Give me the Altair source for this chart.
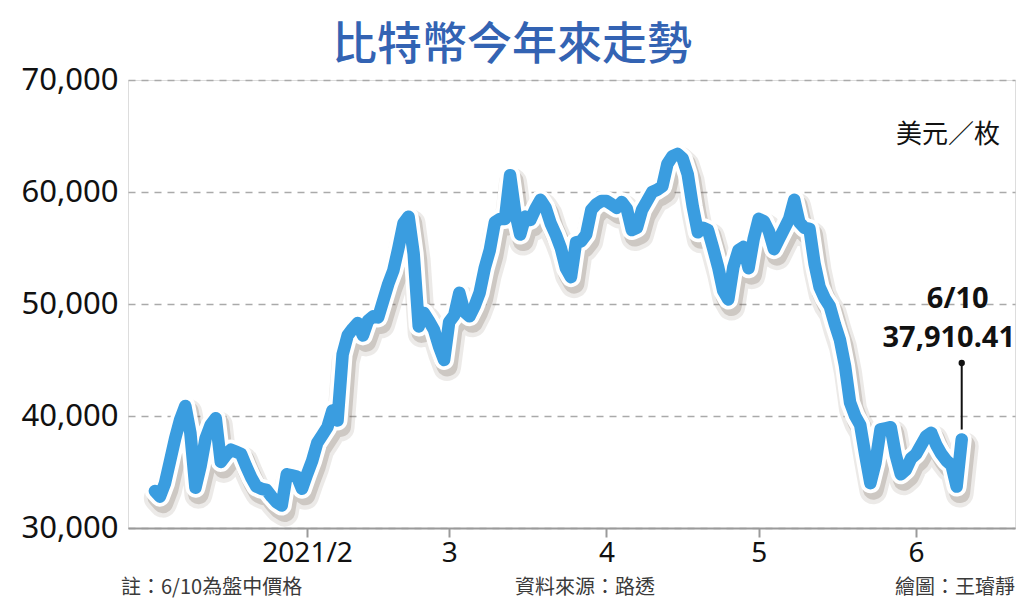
import altair as alt
import pandas as pd

# ---- data (daily, 2021/1/2 - 2021/6/10) ----
jan = [33300, 32800, 34000, 36000, 38000, 39700, 40900, 38500, 33600, 35500,
       38000, 39200, 39800, 35900, 36500, 37000, 36800, 36600, 35500, 34500,
       33700, 33500, 33400, 32800, 32300, 32000, 34800, 34700, 34600, 33500]
feb = [34800, 36000, 37600, 38300, 39000, 40500, 39600, 45500, 47200, 47800,
       48300, 47200, 48500, 48900, 48800, 50300, 51800, 53000, 55000, 57200,
       57800, 54500, 48000, 49200, 48500, 47700, 46200, 45000]
mar = [48400, 49000, 51000, 49300, 48900, 49800, 51000, 53200, 54800, 57300,
       57600, 57600, 61500, 58200, 56200, 57800, 57500, 58500, 59300, 58600,
       57200, 56200, 55000, 53200, 52400, 55500, 55600, 56200, 58400, 58900,
       59200]
apr = [59200, 58900, 58600, 59100, 58500, 56600, 56800, 58400, 59200, 60000,
       60200, 60500, 62500, 63200, 63400, 63000, 61600, 58700, 56400, 56800,
       56600, 55000, 53300, 51200, 50400, 53300, 54800, 55100, 53200, 55800]
may = [57600, 57400, 56500, 54900, 55800, 56700, 57600, 59300, 57300, 56800,
       56700, 53600, 51500, 50500, 49800, 48200, 46800, 44500, 41200, 40000,
       39200, 36500, 34000, 35800, 38800, 38900, 39000, 36500, 34800, 35200,
       36200]
jun = [36600, 37400, 38200, 38500, 37400, 36600, 36000, 35600, 33700, 37910.41]

prices = jan + feb + mar + apr + may + jun
dates = pd.date_range("2021-01-02", "2021-06-10", freq="D").strftime("%Y-%m-%d").tolist()

y_ticks = [30000, 40000, 50000, 60000, 70000]
month_ticks = [(2021, 2), (2021, 3), (2021, 4), (2021, 5), (2021, 6)]

title_text = "比特幣今年來走勢"
unit_text = "美元／枚"
note_text = "註：6/10為盤中價格"
source_text = "資料來源：路透"
credit_text = "繪圖：王璿靜"
last_date = "2021-06-10"
last_label_date = "6/10"
last_label_value = "37,910.41"

df = pd.DataFrame({"date": dates, "price": prices})
ann = pd.DataFrame({"date": [last_date], "price": [prices[-1]],
                    "l1": [last_label_date], "l2": [last_label_value]})

FONT = "Noto Sans"
CJK = "Noto Sans CJK TC"

xscale = alt.Scale(
    domain=[alt.DateTime(year=2020, month=12, date=27, hours=17, utc=True),
            alt.DateTime(year=2021, month=6, date=20, hours=12, utc=True)],
    nice=False)
yscale = alt.Scale(domain=[30000, 70000], nice=False, zero=False)

xaxis = alt.Axis(
    title=None,
    values=[alt.DateTime(year=y, month=m, date=1, utc=True) for y, m in month_ticks],
    labelExpr="utcmonth(datum.value) == 1 ? '2021/2' : '' + (utcmonth(datum.value) + 1)",
    grid=False, domain=True, domainColor="#9a9a9a", domainWidth=2,
    ticks=True, tickColor="#9a9a9a", tickWidth=2, tickSize=9,
    labelFont=FONT, labelFontSize=28, labelColor="#111111", labelPadding=2,
)
yaxis = alt.Axis(
    title=None, values=y_ticks, format=",.0f",
    grid=True, gridColor="#aaaaaa", gridDash=[7, 6], gridWidth=1.5,
    domain=False, ticks=False,
    labelFont=FONT, labelFontSize=31, labelColor="#111111", labelPadding=10,
)

base = alt.Chart(df).encode(
    x=alt.X("date:T", scale=xscale, axis=xaxis),
    y=alt.Y("price:Q", scale=yscale, axis=yaxis),
)

line_kw = dict(strokeJoin="round", strokeCap="round")
shadow1 = base.mark_line(color="#6e5a4e", opacity=0.13, strokeWidth=28,
                         xOffset=3, yOffset=7, **line_kw)
shadow2 = base.mark_line(color="#6e5a4e", opacity=0.24, strokeWidth=21,
                         xOffset=3, yOffset=6, **line_kw)
white = base.mark_line(color="#ffffff", strokeWidth=20, **line_kw)
blue = base.mark_line(color="#3a9de0", strokeWidth=12.5, **line_kw)

ann_base = alt.Chart(ann)
rule = ann_base.mark_rule(color="#111111", strokeWidth=2).encode(
    x=alt.X("date:T", scale=xscale),
    y=alt.Y("price:Q", scale=yscale),
    y2=alt.value(283),
)
dot = ann_base.mark_circle(color="#111111", size=40, opacity=1).encode(
    x=alt.X("date:T", scale=xscale), y=alt.value(283))
t1 = ann_base.mark_text(font=FONT, fontSize=29, fontWeight="bold", color="#111111",
                        align="center", baseline="middle", dx=-4).encode(
    x=alt.X("date:T", scale=xscale), y=alt.value(219), text="l1:N")
t2 = ann_base.mark_text(font=FONT, fontSize=29, fontWeight="bold", color="#111111",
                        align="center", baseline="middle", dx=-13).encode(
    x=alt.X("date:T", scale=xscale), y=alt.value(258), text="l2:N")


def label(text, x, y, size, color="#111111", align="center", weight="normal", font=CJK):
    return alt.Chart(pd.DataFrame({"t": [text]})).mark_text(
        font=font, fontSize=size, color=color, align=align, baseline="middle",
        fontWeight=weight,
    ).encode(text="t:N", x=alt.value(x), y=alt.value(y))


title = label(title_text, 384, -34, 45, color="#3363b3", weight=500)
unit = label(unit_text, 872, 55, 26, align="right")
note = label(note_text, -7, 508, 20, color="#3a3a3a", align="left")
source = label(source_text, 387, 508, 20, color="#3a3a3a", align="left")
credit = label(credit_text, 887, 508, 20, color="#3a3a3a", align="right")

chart = alt.layer(
    rule, dot, shadow1, shadow2, white, blue, t1, t2,
    title, unit, note, source, credit,
).properties(
    width=887, height=448,
    padding={"left": 120, "top": 72, "right": 1, "bottom": 71},
    autosize=alt.AutoSizeParams(type="none"),
).configure_view(stroke=None).configure(background="#ffffff")

chart.save("out.html", embed_options={"renderer": "svg", "actions": False})
